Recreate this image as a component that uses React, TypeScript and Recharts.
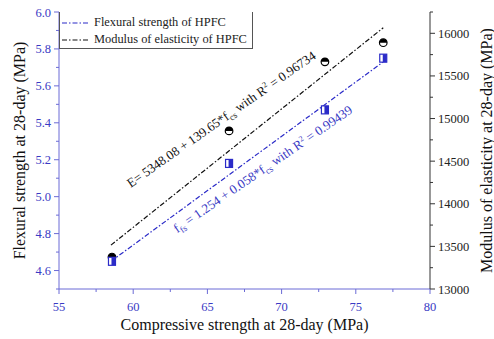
import { ScatterChart, Scatter, XAxis, YAxis, Legend, ReferenceDot } from 'recharts'

// values
const compressive = [58.57, 66.46, 72.92, 76.85]
const flexural = [4.65, 5.18, 5.47, 5.75]
const modulus = [13375, 14855, 15665, 15890]

// end points of the two fitted lines
const fitX = [58.5, 76.85]
const flexuralFit = [4.65, 5.73]
const modulusFit = [13515, 16065]

const xMajor = [55, 60, 65, 70, 75, 80]
const xMinor = [57.5, 62.5, 67.5, 72.5, 77.5]
const leftMajor = [4.6, 4.8, 5.0, 5.2, 5.4, 5.6, 5.8, 6.0]
const leftMinor = [4.5, 4.7, 4.9, 5.1, 5.3, 5.5, 5.7, 5.9]
const rightMajor = [13000, 13500, 14000, 14500, 15000, 15500, 16000]
const rightMinor = [13250, 13750, 14250, 14750, 15250, 15750, 16250]

const FONT = '"Liberation Serif", "Times New Roman", serif'
const BLUE = '#2b2bc8'
const BLUE_AXIS = '#6b6bd6'
const BLUE_TEXT = '#3a3ac4'
const DARK = '#333'
const DASH = '5 2 1.5 2'

const flexuralPts = compressive.map((x, i) => ({ x, y: flexural[i] }))
const modulusPts = compressive.map((x, i) => ({ x, y: modulus[i] }))
const flexuralLine = fitX.map((x, i) => ({ x, y: flexuralFit[i] }))
const modulusLine = fitX.map((x, i) => ({ x, y: modulusFit[i] }))

const isIn = (list: number[], v: number) => list.some((m) => Math.abs(m - v) < 1e-6)

const makeTick =
  (side: 'left' | 'right' | 'bottom', major: number[], color: string, lineColor: string, digits?: number) =>
  (props: any) => {
    const { x, y, payload } = props
    const v = payload.value as number
    const big = isIn(major, v)
    const len = big ? 5 : 3
    const label = big ? (digits != null ? v.toFixed(digits) : String(v)) : ''
    if (side === 'bottom') {
      return (
        <g>
          <line x1={x} y1={y} x2={x} y2={y + len} stroke={lineColor} />
          {label && (
            <text x={x} y={y + 22} textAnchor="middle" fill={color} fontSize={12.5} fontFamily={FONT}>
              {label}
            </text>
          )}
        </g>
      )
    }
    const s = side === 'left' ? -1 : 1
    return (
      <g>
        <line x1={x} y1={y} x2={x + s * len} y2={y} stroke={lineColor} />
        {label && (
          <text
            x={x + s * 8}
            y={y + 4.5}
            textAnchor={side === 'left' ? 'end' : 'start'}
            fill={color}
            fontSize={12.5}
            fontFamily={FONT}
          >
            {label}
          </text>
        )}
      </g>
    )
  }

const BlueSquare = (p: any) => {
  const { cx, cy } = p
  return (
    <g>
      <rect x={cx - 3.5} y={cy - 4} width={7} height={8} fill="#fff" stroke={BLUE} strokeWidth={1.2} />
      <rect x={cx - 0.5} y={cy - 4} width={4} height={8} fill={BLUE} />
    </g>
  )
}

const BlackCircle = (p: any) => {
  const { cx, cy } = p
  const r = 3.8
  return (
    <g>
      <circle cx={cx} cy={cy} r={r} fill="#fff" stroke="#000" strokeWidth={1.2} />
      <path d={`M${cx - r},${cy} A${r},${r} 0 0 1 ${cx + r},${cy} Z`} fill="#000" />
    </g>
  )
}

const Eq = ({ cx, cy, angle, color, head, tail }: any) => (
  <text
    x={cx}
    y={cy}
    transform={`rotate(${angle}, ${cx}, ${cy})`}
    textAnchor="middle"
    fill={color}
    fontSize={13}
    fontFamily={FONT}
  >
    {head}
    <tspan dy={3} fontSize={9}>cs</tspan>
    <tspan dy={-3}> with R</tspan>
    <tspan dy={-5} fontSize={8}>2</tspan>
    <tspan dy={5}>{tail}</tspan>
  </text>
)

const LegendBox = () => (
  <div
    style={{
      width: 194,
      height: 37,
      border: '1px solid #555',
      borderTop: 'none',
      background: '#fff',
      boxSizing: 'border-box',
      fontFamily: FONT,
      fontSize: 12.4,
      color: '#222',
      whiteSpace: 'nowrap',
      paddingTop: 2,
    }}
  >
    {[
      { name: 'Flexural strength of HPFC', color: BLUE },
      { name: 'Modulus of elasticity of HPFC', color: '#111' },
    ].map((e) => (
      <div key={e.name} style={{ display: 'flex', alignItems: 'center', height: 17 }}>
        <svg width={34} height={10} style={{ flex: 'none' }}>
          <line x1={2} y1={5} x2={29} y2={5} stroke={e.color} strokeWidth={1.2} strokeDasharray={DASH} />
        </svg>
        <span>{e.name}</span>
      </div>
    ))}
  </div>
)

const axisTitle =
  (text: string, kind: 'x' | 'left' | 'right') =>
  (props: any) => {
    const vb = props.viewBox || {}
    if (kind === 'x') {
      return (
        <text x={vb.x + vb.width / 2} y={vb.y + 41} textAnchor="middle" fontSize={16} fontFamily={FONT} fill="#111">
          {text}
        </text>
      )
    }
    const cx = kind === 'left' ? vb.x + 19 : vb.x + 56
    const cy = vb.y + vb.height / 2
    return (
      <text
        x={cx}
        y={cy}
        transform={`rotate(-90, ${cx}, ${cy})`}
        textAnchor="middle"
        dominantBaseline="central"
        fontSize={16}
        fontFamily={FONT}
        fill="#111"
      >
        {text}
      </text>
    )
  }

export default function App() {
  return (
    <div style={{ position: 'absolute', left: 0, top: 0, background: '#fff' }}>
      <ScatterChart width={494} height={339} margin={{ top: 12, right: 0, bottom: 0, left: 0 }}>
        <XAxis
          xAxisId="top"
          orientation="top"
          type="number"
          domain={[55, 80]}
          height={0}
          tick={false}
          tickLine={false}
          axisLine={{ stroke: '#555' }}
        />
        <XAxis
          dataKey="x"
          type="number"
          domain={[55, 80]}
          ticks={[...xMajor, ...xMinor]}
          interval={0}
          height={50}
          tickSize={0}
          tickMargin={0}
          tickLine={false}
          axisLine={{ stroke: BLUE_AXIS }}
          tick={makeTick('bottom', xMajor, BLUE_TEXT, BLUE_AXIS)}
          label={{ content: axisTitle('Compressive strength at 28-day (MPa)', 'x') }}
        />
        <YAxis
          yAxisId="left"
          dataKey="y"
          type="number"
          domain={[4.5, 6.0]}
          ticks={[...leftMajor, ...leftMinor]}
          interval={0}
          width={59}
          tickSize={0}
          tickMargin={0}
          tickLine={false}
          allowDataOverflow
          axisLine={{ stroke: BLUE_AXIS }}
          tick={makeTick('left', leftMajor, BLUE_TEXT, BLUE_AXIS, 1)}
          label={{ content: axisTitle('Flexural strength at 28-day (MPa)', 'left') }}
        />
        <YAxis
          yAxisId="right"
          orientation="right"
          dataKey="y"
          type="number"
          domain={[13000, 16250]}
          ticks={[...rightMajor, ...rightMinor]}
          interval={0}
          width={64}
          tickSize={0}
          tickMargin={0}
          tickLine={false}
          allowDataOverflow
          axisLine={{ stroke: DARK }}
          tick={makeTick('right', rightMajor, '#222', DARK)}
          label={{ content: axisTitle('Modulus of elasticity at 28-day (MPa)', 'right') }}
        />
        <Legend
          layout="vertical"
          verticalAlign="middle"
          align="center"
          wrapperStyle={{ top: 12, left: 59, width: 'auto' }}
          content={<LegendBox />}
        />
        <Scatter
          data={modulusLine}
          yAxisId="right"
          line={{ stroke: '#111', strokeWidth: 1.2, strokeDasharray: DASH }}
          lineType="joint"
          shape={() => <g />}
          legendType="none"
          isAnimationActive={false}
        />
        <Scatter
          data={flexuralLine}
          yAxisId="left"
          line={{ stroke: BLUE, strokeWidth: 1.2, strokeDasharray: DASH }}
          lineType="joint"
          shape={() => <g />}
          legendType="none"
          isAnimationActive={false}
        />
        <Scatter data={modulusPts} yAxisId="right" shape={BlackCircle} isAnimationActive={false} />
        <Scatter data={flexuralPts} yAxisId="left" shape={BlueSquare} isAnimationActive={false} />
        <ReferenceDot
          x={66.1}
          y={14950}
          yAxisId="right"
          r={0}
          shape={(p: any) => (
            <Eq cx={p.cx} cy={p.cy} angle={-35} color="#111" head="E= 5348.08 + 139.65*f" tail=" = 0.96734" />
          )}
        />
        <ReferenceDot
          x={68.9}
          y={5.13}
          yAxisId="left"
          r={0}
          shape={(p: any) => (
            <Eq
              cx={p.cx}
              cy={p.cy}
              angle={-34.5}
              color={BLUE_TEXT}
              head={
                <>
                  f<tspan dy={3} fontSize={9}>fs</tspan>
                  <tspan dy={-3}> = 1.254 + 0.058*f</tspan>
                </>
              }
              tail=" = 0.99439"
            />
          )}
        />
      </ScatterChart>
    </div>
  )
}
